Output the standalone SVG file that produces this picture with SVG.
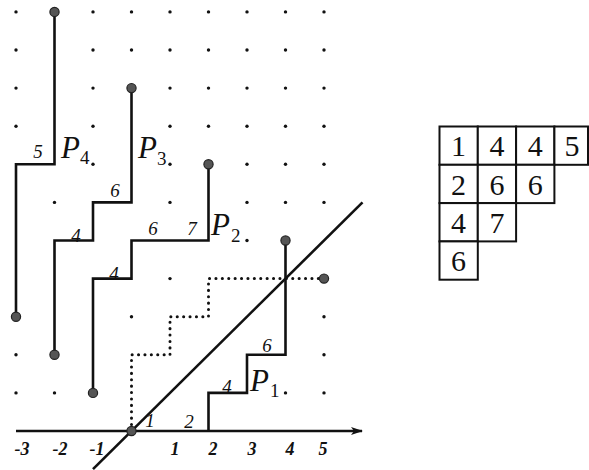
<svg xmlns="http://www.w3.org/2000/svg" width="589" height="470" viewBox="0 0 589 470">
<style>
.ln{fill:none;stroke:#111;stroke-width:2.6;stroke-linejoin:miter;stroke-linecap:butt}
.dot{fill:#111}
.end{fill:#555;stroke:#222;stroke-width:1.2}
.dt{fill:none;stroke:#111;stroke-width:3;stroke-linecap:round;stroke-dasharray:0.1 6.3}
.lbl{font-family:"Liberation Serif",serif;font-style:italic;font-size:19px;fill:#111;text-anchor:middle}
.ax{font-family:"Liberation Serif",serif;font-style:italic;font-weight:bold;font-size:18px;fill:#111;text-anchor:middle}
.P{font-family:"Liberation Serif",serif;font-style:italic;font-size:31px;fill:#111}
.sub{font-family:"Liberation Serif",serif;font-size:19px;fill:#111}
.cell{fill:#fff;stroke:#111;stroke-width:2}
.num{font-family:"Liberation Serif",serif;font-size:30px;fill:#111;text-anchor:middle}
</style>
<defs>
<marker id="arr" markerWidth="12" markerHeight="8" refX="11" refY="4" orient="auto" markerUnits="userSpaceOnUse">
<path d="M0,0 L12,4 L0,8 L3,4 Z" fill="#111"/>
</marker>
</defs>
<rect width="589" height="470" fill="#fff"/>
<g id="grid-dots">
<circle class="dot" cx="16" cy="11.9" r="1.7"/><circle class="dot" cx="93" cy="11.9" r="1.7"/><circle class="dot" cx="131.5" cy="11.9" r="1.7"/><circle class="dot" cx="170" cy="11.9" r="1.7"/><circle class="dot" cx="208.5" cy="11.9" r="1.7"/><circle class="dot" cx="247" cy="11.9" r="1.7"/><circle class="dot" cx="285.5" cy="11.9" r="1.7"/><circle class="dot" cx="324" cy="11.9" r="1.7"/>
<circle class="dot" cx="16" cy="50" r="1.7"/><circle class="dot" cx="93" cy="50" r="1.7"/><circle class="dot" cx="131.5" cy="50" r="1.7"/><circle class="dot" cx="170" cy="50" r="1.7"/><circle class="dot" cx="208.5" cy="50" r="1.7"/><circle class="dot" cx="247" cy="50" r="1.7"/><circle class="dot" cx="285.5" cy="50" r="1.7"/><circle class="dot" cx="324" cy="50" r="1.7"/>
<circle class="dot" cx="16" cy="88.1" r="1.7"/><circle class="dot" cx="93" cy="88.1" r="1.7"/><circle class="dot" cx="170" cy="88.1" r="1.7"/><circle class="dot" cx="208.5" cy="88.1" r="1.7"/><circle class="dot" cx="247" cy="88.1" r="1.7"/><circle class="dot" cx="285.5" cy="88.1" r="1.7"/><circle class="dot" cx="324" cy="88.1" r="1.7"/>
<circle class="dot" cx="16" cy="126.2" r="1.7"/><circle class="dot" cx="93" cy="126.2" r="1.7"/><circle class="dot" cx="170" cy="126.2" r="1.7"/><circle class="dot" cx="208.5" cy="126.2" r="1.7"/><circle class="dot" cx="247" cy="126.2" r="1.7"/><circle class="dot" cx="285.5" cy="126.2" r="1.7"/><circle class="dot" cx="324" cy="126.2" r="1.7"/>
<circle class="dot" cx="93" cy="164.3" r="1.7"/><circle class="dot" cx="170" cy="164.3" r="1.7"/><circle class="dot" cx="247" cy="164.3" r="1.7"/><circle class="dot" cx="285.5" cy="164.3" r="1.7"/><circle class="dot" cx="324" cy="164.3" r="1.7"/>
<circle class="dot" cx="54.5" cy="202.4" r="1.7"/><circle class="dot" cx="170" cy="202.4" r="1.7"/><circle class="dot" cx="247" cy="202.4" r="1.7"/><circle class="dot" cx="285.5" cy="202.4" r="1.7"/><circle class="dot" cx="324" cy="202.4" r="1.7"/>
<circle class="dot" cx="247" cy="240.5" r="1.7"/>
<circle class="dot" cx="170" cy="278.6" r="1.7"/>
<circle class="dot" cx="131.5" cy="316.7" r="1.7"/><circle class="dot" cx="324" cy="316.7" r="1.7"/>
<circle class="dot" cx="16" cy="354.8" r="1.7"/><circle class="dot" cx="324" cy="354.8" r="1.7"/>
<circle class="dot" cx="16" cy="392.9" r="1.7"/><circle class="dot" cx="54.5" cy="392.9" r="1.7"/><circle class="dot" cx="285.5" cy="392.9" r="1.7"/><circle class="dot" cx="324" cy="392.9" r="1.7"/>
</g>
<g id="connectors">
<g id="axis">
<line class="ln" x1="16" y1="431" x2="362" y2="431" marker-end="url(#arr)"/>
<text class="ax" x="22" y="455">-3</text>
<text class="ax" x="60" y="455">-2</text>
<text class="ax" x="97" y="455">-1</text>
<text class="ax" x="175" y="455">1</text>
<text class="ax" x="213" y="455">2</text>
<text class="ax" x="252" y="455">3</text>
<text class="ax" x="290" y="455">4</text>
<text class="ax" x="323" y="455">5</text>
</g>
<line id="diagonal" class="ln" x1="93" y1="469.1" x2="362.5" y2="202.4" stroke-width="2"/>
<g id="path-dotted">
<polyline class="dt" points="131.5,431 131.5,354.8 170,354.8 170,316.7 208.5,316.7 208.5,278.6 324,278.6"/>
<circle class="end" cx="324" cy="278.6" r="4.6"/>
</g>
<g id="path-P1">
<polyline class="ln" points="208.5,431 208.5,392.9 247,392.9 247,354.8 285.5,354.8 285.5,240.5"/>
<circle class="end" cx="285.5" cy="240.5" r="4.6"/>
<text class="lbl" x="150" y="427">1</text>
<text class="lbl" x="189" y="428">2</text>
<text class="lbl" x="227" y="393">4</text>
<text class="lbl" x="267" y="352">6</text>
<text class="P" x="250" y="391">P</text>
<text class="sub" x="270" y="397">1</text>
</g>
<g id="path-P2">
<polyline class="ln" points="93,392.9 93,278.6 131.5,278.6 131.5,240.5 208.5,240.5 208.5,164.3"/>
<circle class="end" cx="93" cy="392.9" r="4.6"/>
<circle class="end" cx="208.5" cy="164.3" r="4.6"/>
<text class="lbl" x="114" y="280">4</text>
<text class="lbl" x="153" y="235">6</text>
<text class="lbl" x="192" y="235">7</text>
<text class="P" x="211" y="235">P</text>
<text class="sub" x="231" y="242">2</text>
</g>
<g id="path-P3">
<polyline class="ln" points="54.5,354.8 54.5,240.5 93,240.5 93,202.4 131.5,202.4 131.5,88.1"/>
<circle class="end" cx="54.5" cy="354.8" r="4.6"/>
<circle class="end" cx="131.5" cy="88.1" r="4.6"/>
<text class="lbl" x="76" y="242">4</text>
<text class="lbl" x="115" y="197">6</text>
<text class="P" x="138" y="158">P</text>
<text class="sub" x="157" y="165">3</text>
</g>
<g id="path-P4">
<polyline class="ln" points="16,316.7 16,164.3 54.5,164.3 54.5,11.9"/>
<circle class="end" cx="16" cy="316.7" r="4.6"/>
<circle class="end" cx="54.5" cy="11.9" r="4.6"/>
<text class="lbl" x="38" y="158">5</text>
<text class="P" x="61" y="158">P</text>
<text class="sub" x="80" y="164">4</text>
</g>
<circle id="origin" class="end" cx="131.5" cy="431" r="4.6"/>
</g>
<g id="tableau">
<g id="c11"><rect class="cell" x="439.5" y="126.5" width="38.3" height="38.3"/><text class="num" x="458.6" y="156">1</text></g>
<g id="c12"><rect class="cell" x="477.8" y="126.5" width="38.3" height="38.3"/><text class="num" x="497" y="156">4</text></g>
<g id="c13"><rect class="cell" x="516.1" y="126.5" width="38.3" height="38.3"/><text class="num" x="535.3" y="156">4</text></g>
<g id="c14"><rect class="cell" x="554.4" y="126.5" width="33.6" height="38.3"/><text class="num" x="572" y="156">5</text></g>
<g id="c21"><rect class="cell" x="439.5" y="164.8" width="38.3" height="38.3"/><text class="num" x="458.6" y="195">2</text></g>
<g id="c22"><rect class="cell" x="477.8" y="164.8" width="38.3" height="38.3"/><text class="num" x="497" y="195">6</text></g>
<g id="c23"><rect class="cell" x="516.1" y="164.8" width="38.3" height="38.3"/><text class="num" x="535.3" y="195">6</text></g>
<g id="c31"><rect class="cell" x="439.5" y="203.1" width="38.3" height="38.3"/><text class="num" x="458.6" y="233">4</text></g>
<g id="c32"><rect class="cell" x="477.8" y="203.1" width="38.3" height="38.3"/><text class="num" x="497" y="233">7</text></g>
<g id="c41"><rect class="cell" x="439.5" y="241.4" width="38.3" height="38.3"/><text class="num" x="458.6" y="271">6</text></g>
</g>
</svg>
